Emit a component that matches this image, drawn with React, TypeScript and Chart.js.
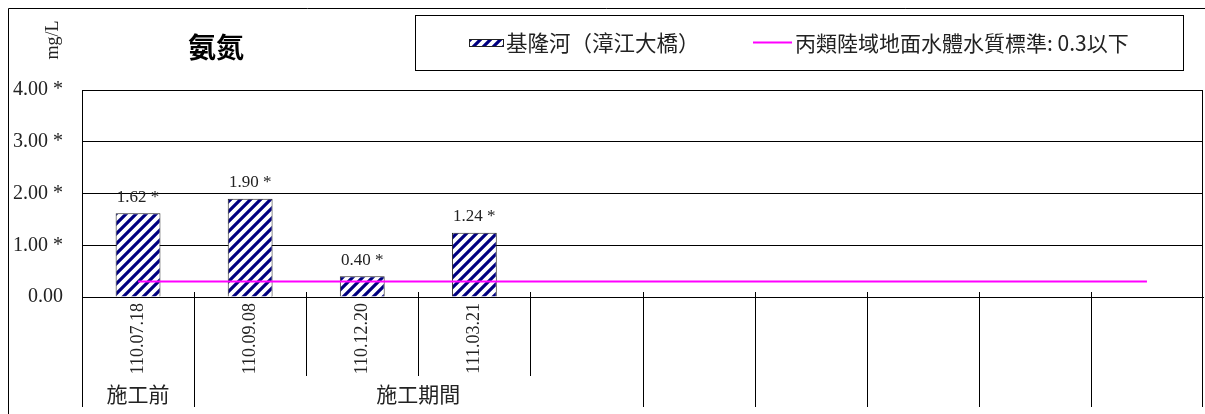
import React, { useEffect, useRef } from 'react';
import { Chart, registerables } from 'chart.js';

Chart.register(...registerables);

// ---- data ----
const categories = ['110.07.18', '110.09.08', '110.12.20', '111.03.21', '', '', '', '', '', ''];
const riverValues = [1.62, 1.9, 0.4, 1.24, null, null, null, null, null, null];
const standardValues = [0.3, 0.3, 0.3, 0.3, 0.3, 0.3, 0.3, 0.3, 0.3, 0.3];
const valueLabels = ['1.62 *', '1.90 *', '0.40 *', '1.24 *'];
const yTickLabels = ['0.00', '1.00 *', '2.00 *', '3.00 *', '4.00 *'];
const groupLabels = ['施工前', '施工期間', '', '', '', '', ''];
const groupSpans = [1, 4, 1, 1, 1, 1, 1];
const riverLabel = '基隆河（漳江大橋）';
const standardLabel = '丙類陸域地面水體水質標準: 0.3以下';
const chartTitle = '氨氮';
const unitLabel = 'mg/L';

const SERIF = '"Liberation Serif", "Times New Roman", serif';
const CJK = '"Noto Sans CJK TC", "Noto Sans", sans-serif';
const TEXT = '#222';

function makeStripe(): CanvasPattern | string {
  const P = 10;
  const c = document.createElement('canvas');
  c.width = P;
  c.height = P;
  const g = c.getContext('2d');
  if (!g) return '#000080';
  g.fillStyle = '#ffffff';
  g.fillRect(0, 0, P, P);
  g.strokeStyle = '#000080';
  g.lineWidth = 3.2;
  g.beginPath();
  g.moveTo(-2, P + 2);
  g.lineTo(P + 2, -2);
  g.moveTo(-3, 3);
  g.lineTo(3, -3);
  g.moveTo(P - 3, P + 3);
  g.lineTo(P + 3, P - 3);
  g.stroke();
  return g.createPattern(c, 'repeat') || '#000080';
}

const decor = {
  id: 'decor',
  afterDraw(chart: any) {
    const ctx: CanvasRenderingContext2D = chart.ctx;
    const area = chart.chartArea;
    const n = categories.length;
    const step = (area.right - area.left) / n;
    const bottomRow1 = 376;
    const bottomRow2 = 407;

    ctx.save();
    // outer frame (top & left visible)
    ctx.strokeStyle = '#000';
    ctx.lineWidth = 1;
    ctx.beginPath();
    ctx.moveTo(8.5, 414);
    ctx.lineTo(8.5, 8.5);
    ctx.lineTo(1205, 8.5);
    ctx.stroke();

    // plot right border
    const rx = Math.round(area.right) - 0.5;
    ctx.beginPath();
    ctx.moveTo(rx, area.top);
    ctx.lineTo(rx, area.bottom);
    ctx.stroke();

    // category / group dividers
    const groupBounds = new Set<number>([0]);
    let acc = 0;
    groupSpans.forEach((s) => {
      acc += s;
      groupBounds.add(acc);
    });
    for (let k = 0; k <= n; k++) {
      let bx = area.left + k * step;
      bx = k === n ? Math.round(bx) - 0.5 : Math.round(bx) + 0.5;
      if (k === 0) bx = Math.round(area.left) + 0.5;
      ctx.beginPath();
      ctx.moveTo(bx, area.bottom - 5);
      ctx.lineTo(bx, groupBounds.has(k) ? bottomRow2 : bottomRow1);
      ctx.stroke();
    }

    // group labels
    ctx.fillStyle = TEXT;
    ctx.font = `21px ${CJK}`;
    ctx.textAlign = 'center';
    ctx.textBaseline = 'middle';
    let start = 0;
    groupLabels.forEach((lab, i) => {
      const span = groupSpans[i];
      const cx = area.left + (start + span / 2) * step;
      if (lab) ctx.fillText(lab, cx, 394);
      start += span;
    });

    // value labels
    const meta = chart.getDatasetMeta(0);
    ctx.font = `17px ${SERIF}`;
    ctx.fillStyle = TEXT;
    meta.data.forEach((el: any, i: number) => {
      if (riverValues[i] == null || !valueLabels[i]) return;
      ctx.fillText(valueLabels[i], el.x, el.y - 16);
    });

    // unit label
    ctx.save();
    ctx.translate(53, 40);
    ctx.rotate(-Math.PI / 2);
    ctx.font = `18px ${SERIF}`;
    ctx.fillStyle = TEXT;
    ctx.fillText(unitLabel, 0, 0);
    ctx.restore();

    // title
    ctx.font = `bold 28px ${CJK}`;
    ctx.fillStyle = '#000';
    ctx.fillText(chartTitle, 216, 47);

    // legend box
    ctx.strokeStyle = '#000';
    ctx.lineWidth = 1;
    ctx.strokeRect(415.5, 15.5, 768, 55);
    const ds0 = chart.data.datasets[0];
    const ds1 = chart.data.datasets[1];
    ctx.fillStyle = ds0.backgroundColor;
    ctx.fillRect(469, 39, 35, 8);
    ctx.strokeStyle = '#222';
    ctx.strokeRect(469.5, 39.5, 34, 7);
    ctx.fillStyle = TEXT;
    ctx.textAlign = 'left';
    ctx.font = `21.5px ${CJK}`;
    ctx.fillText(ds0.label, 506, 43);
    ctx.strokeStyle = ds1.borderColor;
    ctx.lineWidth = 2;
    ctx.beginPath();
    ctx.moveTo(753, 42.5);
    ctx.lineTo(792, 42.5);
    ctx.stroke();
    ctx.font = `21px ${CJK}`;
    ctx.fillText(ds1.label, 795, 43);
    ctx.restore();
  },
};

export default function App() {
  const ref = useRef<HTMLCanvasElement | null>(null);
  useEffect(() => {
    if (!ref.current) return;
    const pattern = makeStripe();
    const chart = new Chart(ref.current, {
      type: 'bar',
      data: {
        labels: categories,
        datasets: [
          {
            type: 'bar',
            label: riverLabel,
            data: riverValues as any,
            backgroundColor: pattern as any,
            borderColor: '#222',
            borderWidth: 1,
            barPercentage: 0.4,
            categoryPercentage: 1,
            order: 2,
          },
          {
            type: 'line',
            label: standardLabel,
            data: standardValues,
            borderColor: '#ff00ff',
            borderWidth: 2,
            pointRadius: 0,
            fill: false,
            order: 1,
          } as any,
        ],
      },
      options: {
        responsive: true,
        maintainAspectRatio: false,
        animation: false,
        devicePixelRatio: 1,
        layout: { padding: { left: 0, top: 90, right: 2, bottom: 0 } },
        plugins: {
          legend: { display: false },
          title: { display: false },
          tooltip: { enabled: false },
        },
        scales: {
          x: {
            offset: true,
            grid: { display: false, drawTicks: false },
            border: { display: true, color: '#000', width: 1 },
            ticks: {
              autoSkip: false,
              maxRotation: 90,
              minRotation: 90,
              padding: 6,
              color: TEXT,
              font: { family: SERIF, size: 18 },
            },
            afterFit(s: any) {
              s.height = 117;
            },
          },
          y: {
            min: 0,
            max: 4,
            ticks: {
              stepSize: 1,
              padding: 19,
              color: TEXT,
              font: { family: SERIF, size: 20 },
              callback: (_v: any, i: number) => yTickLabels[i],
            },
            grid: { color: '#000', lineWidth: 1, drawTicks: false },
            border: { color: '#000', width: 1 },
            afterFit(s: any) {
              s.width = 82;
            },
          },
        },
      } as any,
      plugins: [decor],
    });
    return () => chart.destroy();
  }, []);
  return (
    <div style={{ position: 'fixed', left: 0, top: 0, width: 1205, height: 414, background: '#fff' }}>
      <canvas ref={ref} />
    </div>
  );
}
